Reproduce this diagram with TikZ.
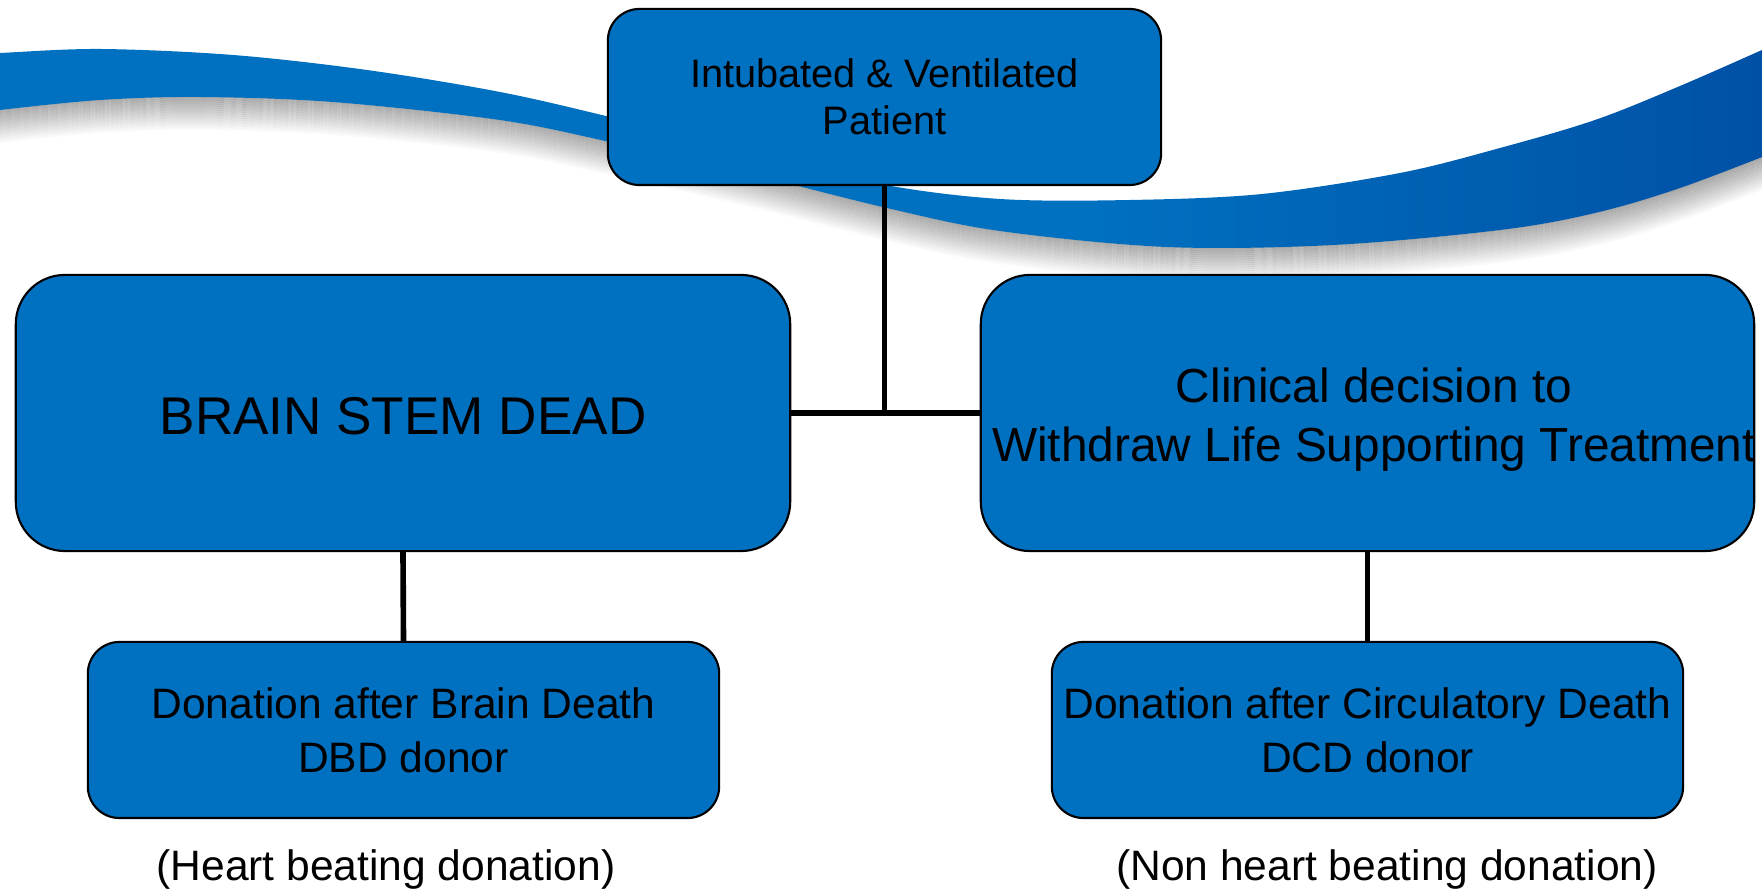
\documentclass[tikz,border=0pt]{standalone}
\usepackage{fontspec}
\setmainfont{Liberation Sans}
\definecolor{boxblue}{RGB}{0,112,192}
\definecolor{ribA}{RGB}{0,112,192}
\definecolor{ribB}{RGB}{0,80,165}
\pgfdeclarehorizontalshading{ribbonshade}{100bp}{color(0bp)=(ribA); color(56bp)=(ribA); color(75bp)=(ribB); color(100bp)=(ribB)}
\newcommand\ribLower{plot[smooth,tension=0.55] coordinates {(-20,114) (0,110) (100,100) (200,97) (333,102) (500,120) (610,142) (750,174) (887,208) (1000,231) (1167,247) (1333,245) (1500,230) (1595,213) (1680,188) (1780,150)}}
\begin{document}
\begin{tikzpicture}[x=0.01cm,y=-0.01cm,
  box/.style={draw=black, line width=0.6pt, fill=boxblue, rounded corners=#1,
              inner sep=0pt, align=center, text=black},
  conn/.style={draw=black, line width=1.6pt},
  txt/.style={inner sep=0pt, align=center, text=black},
  note/.style={inner sep=0pt, text=black, font=\fontsize{12.1pt}{14.6pt}\selectfont}]
\useasboundingbox (0,0) rectangle (1762,889);
\begin{scope}
\clip (0,0) rectangle (1762,889);
% ribbon shadow
\foreach \k in {0,...,16}{
  \draw[black!45, line width=0.6pt, opacity={0.72*(1-\k/17)}, yshift={-\k*0.02cm}] \ribLower;
}
% ribbon
\shade[shading=ribbonshade]
  plot[smooth,tension=0.55] coordinates {(-20,54) (0,53) (100,49) (233,55) (367,70) (500,92) (610,117) (750,152) (880,184) (1000,199) (1130,200) (1262,194) (1400,173) (1500,148) (1595,120) (1680,86) (1780,42)}
  -- plot[smooth,tension=0.55] coordinates {(1780,150) (1680,188) (1595,213) (1500,230) (1333,245) (1167,247) (1000,231) (887,208) (750,174) (610,142) (500,120) (333,102) (200,97) (100,100) (0,110) (-20,114)}
  -- cycle;
\end{scope}

\node[box=9pt, minimum width=5.53cm, minimum height=1.76cm,
      font=\fontsize{11.3pt}{13.4pt}\selectfont] (top) at (884.5,97)
  {Intubated \& Ventilated\\Patient};
\node[box=14pt, minimum width=7.74cm, minimum height=2.76cm] (L) at (403,413) {};
\node[txt, font=\fontsize{15.1pt}{18pt}\selectfont] (Lt) at (403,416) {BRAIN STEM DEAD};
\node[box=14pt, minimum width=7.73cm, minimum height=2.76cm] (R) at (1367.5,413) {};
\node[txt, font=\fontsize{13.6pt}{16.8pt}\selectfont] (Rt) at (1374,420)
  {Clinical decision to\\Withdraw Life Supporting Treatment};
\node[box=9pt, minimum width=6.31cm, minimum height=1.76cm,
      font=\fontsize{12.1pt}{15.4pt}\selectfont] (DBD) at (403.5,730)
  {Donation after Brain Death\\DBD donor};
\node[box=9pt, minimum width=6.31cm, minimum height=1.76cm,
      font=\fontsize{12.1pt}{15.4pt}\selectfont] (DCD) at (1367.5,730)
  {Donation after Circulatory Death\\DCD donor};

\draw[conn] (top.south) -- (top.south |- L.east);
\draw[conn] (L.east) -- (R.west);
\draw[conn] (L.south) -- (DBD.north);
\draw[conn] (R.south) -- (DCD.north);

\node[note] (hb) at (386,870) {(Heart beating donation)};
\node[note] (nhb) at (1387,870) {(Non heart beating donation)};
\end{tikzpicture}
\end{document}
